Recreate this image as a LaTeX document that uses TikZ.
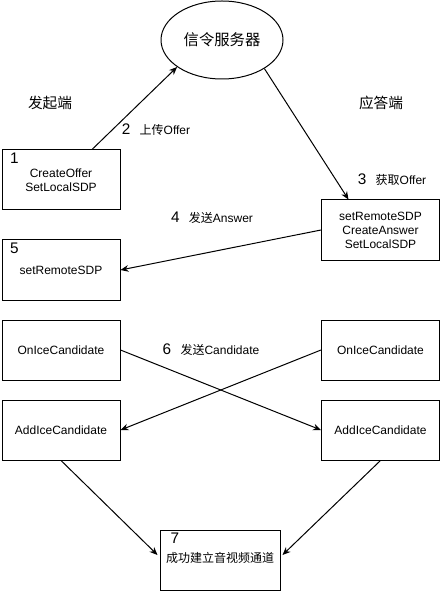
\documentclass[tikz,border=0pt]{standalone}
\usepackage{fontspec}
\setmainfont{Liberation Sans}
\newfontfamily\cjk{Noto Sans CJK SC}
\usetikzlibrary{arrows.meta,positioning,calc,shapes.geometric}
\definecolor{ink}{RGB}{0,0,0}
\tikzset{
  box/.style={draw=ink,minimum width=88.5pt,minimum height=45pt,inner sep=0pt,
    align=center,font=\fontsize{9}{10.5}\selectfont},
  srv/.style={ellipse,draw=ink,minimum width=91.5pt,minimum height=58.5pt,inner sep=0pt,
    font=\cjk\fontsize{11.5}{13}\selectfont},
  num/.style={inner sep=0pt,anchor=north west,font=\fontsize{11.5}{13}\selectfont},
  side/.style={inner sep=0pt,font=\cjk\fontsize{11}{13}\selectfont},
  lbl/.style={inner sep=0pt,font=\fontsize{9}{11}\selectfont},
  arr/.style={-{Stealth[length=6pt,width=5pt]},line width=0.75pt},
}
\newcommand{\stepno}[1]{{\fontsize{11.5}{13}\selectfont #1}\hspace{7pt}}

\begin{document}
\begin{tikzpicture}[x=0.75pt,y=-0.75pt,line width=0.75pt]
\useasboundingbox (0,0) rectangle (441,591);
% server
\node[srv] (server) at (222,40) {信令服务器};
\node[side] (caller) at (50,103) {发起端};
\node[side] (callee) at (381,103) {应答端};
% offer / answer
\node[box] (b1) at (61,180) {CreateOffer\\SetLocalSDP};
\node[num] at ([shift={(6pt,-2.5pt)}]b1.north west) {1};
\node[box] (b3) at (380.5,230) {setRemoteSDP\\CreateAnswer\\SetLocalSDP};
\node[box] (b5) at (61,270) {setRemoteSDP};
\node[num] at ([shift={(6pt,-2.5pt)}]b5.north west) {5};
% candidates
\node[box] (onL) at (61,350) {OnIceCandidate};
\node[box] (addL) at (61,430) {AddIceCandidate};
\node[box] (onR) at (380.5,350) {OnIceCandidate};
\node[box] (addR) at (380.5,430) {AddIceCandidate};
\node[box,minimum width=90pt] (b7) at (220,560) {\raisebox{4pt}{\cjk 成功建立音视频通道}};
\node[num] at ([shift={(8pt,-2.5pt)}]b7.north west) {7};
% step labels
\node[lbl] (s2) at (156,130) {\stepno{2}{\cjk 上传}Offer};
\node[lbl] (s3) at (392,180) {\stepno{3}{\cjk 获取}Offer};
\node[lbl] (s4) at (212,218) {\stepno{4}{\cjk 发送}Answer};
\node[lbl] (s6) at (211,350) {\stepno{6}{\cjk 发送}Candidate};
% connectors
\draw[arr] ([xshift=23.25pt]b1.north) -- (server.211);
\draw[arr] (server.-34) -- ([xshift=-24pt]b3.north);
\draw[arr] (b3.west) -- (b5.east);
\draw[arr] (onL.east) -- (addR.west);
\draw[arr] (onR.west) -- (addL.east);
\draw[arr] (addL.south) -- ([shift={(-1.5pt,3.75pt)}]b7.west);
\draw[arr] (addR.south) -- ([shift={(1.5pt,3.75pt)}]b7.east);
\end{tikzpicture}
\end{document}
